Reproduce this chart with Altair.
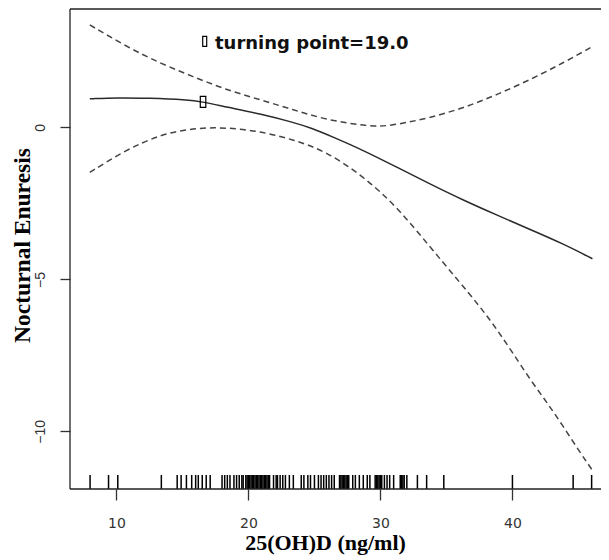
import altair as alt
import pandas as pd

# ---- data ----
fit_x = [7.98, 10.1, 12.4, 15.3, 16.56, 18.33, 20.86, 23.38, 24.9, 26.15, 28.7, 31.2, 33.7, 36.3, 38.8, 41.3, 43.8, 46.06]
fit_y = [0.94, 0.98, 0.96, 0.91, 0.84, 0.67, 0.45, 0.17, -0.04, -0.27, -0.75, -1.30, -1.85, -2.40, -2.88, -3.35, -3.82, -4.32]

upper_x = [7.98, 10.76, 13.3, 15.8, 18.3, 20.9, 23.4, 25.9, 28.7, 29.9, 31.2, 33.7, 36.3, 38.8, 41.3, 43.8, 46.06]
upper_y = [3.37, 2.66, 2.11, 1.67, 1.24, 0.91, 0.58, 0.25, 0.06, 0.03, 0.09, 0.31, 0.64, 1.07, 1.56, 2.11, 2.66]

lower_x = [7.98, 10.76, 13.3, 15.8, 18.3, 20.9, 23.4, 25.9, 28.7, 31.2, 33.7, 35.8, 37.5, 38.8, 40.0, 41.3, 42.6, 43.8, 45.1, 46.06]
lower_y = [-1.48, -0.73, -0.24, -0.02, 0.0, -0.13, -0.40, -0.79, -1.61, -2.59, -3.90, -4.99, -5.87, -6.63, -7.40, -8.27, -9.04, -9.80, -10.68, -11.28]

rug_x = [8.0, 9.4, 10.1, 13.4, 14.6, 14.9, 15.3, 15.7, 16.0, 16.2, 16.5, 16.8, 17.1,
         18.0, 18.2, 18.4, 18.6, 18.9, 19.1,
         19.3, 19.5, 19.6, 19.8, 19.9, 20.0, 20.1, 20.2, 20.3, 20.4, 20.5,
         20.6, 20.7, 20.8, 20.9, 21.0, 21.1, 21.2, 21.3, 21.4, 21.5, 21.6,
         21.9, 22.1, 22.2, 22.4, 22.6, 22.8, 23.1, 23.4,
         24.0, 24.2, 24.5, 24.7, 25.0, 25.3, 25.5, 25.7, 25.9, 26.1, 26.3, 26.5,
         26.9, 27.0, 27.1, 27.2, 27.3, 27.4, 27.5, 27.6,
         27.9, 28.1, 28.4, 28.7, 29.0, 29.2,
         29.6, 29.7, 29.8, 29.9, 30.0, 30.1, 30.3, 30.5, 30.7, 31.0,
         31.5, 31.6, 31.7, 31.8, 32.0, 32.8, 33.5, 34.8, 40.0, 44.6, 46.0]

turning_x = [16.56]
turning_y = [0.84]
legend_label = ["turning point=19.0"]

x_ticks = [10, 20, 30, 40]
y_ticks = [0, -5, -10]
x_title = "25(OH)D (ng/ml)"
y_title = "Nocturnal Enuresis"

W, H = 531, 480

df_fit = pd.DataFrame({"x": fit_x, "y": fit_y})
df_up = pd.DataFrame({"x": upper_x, "y": upper_y})
df_lo = pd.DataFrame({"x": lower_x, "y": lower_y})
df_rug = pd.DataFrame({"x": rug_x})
df_tp = pd.DataFrame({"x": turning_x, "y": turning_y})
df_leg = pd.DataFrame({"label": legend_label})
df_one = pd.DataFrame({"k": [0]})

xs = alt.Scale(domain=[6.48, 46.71], nice=False, zero=False)
ys = alt.Scale(domain=[-11.895, 3.895], nice=False, zero=False)

xaxis = alt.Axis(values=x_ticks, tickSize=11, tickColor="#333", tickWidth=1.3, domain=False, grid=False,
                 labelFont="DejaVu Sans", labelFontSize=14, labelColor="#333", labelPadding=16,
                 titleFont="Liberation Serif", titleFontWeight="bold", titleFontSize=22,
                 titleColor="black", titleX=255, titleY=60, titleBaseline="alphabetic", titleAlign="center")
yaxis = alt.Axis(values=y_ticks, tickSize=10, tickColor="#333", tickWidth=1.3, domain=False, grid=False,
                 labelFont="Liberation Sans", labelFontSize=14, labelColor="#333", labelPadding=13,
                 labelAngle=270, labelAlign="center", labelBaseline="bottom",
                 titleFont="Liberation Serif", titleFontWeight="bold", titleFontSize=23.5,
                 titleColor="black", titleAngle=270, titleX=-41, titleY=236, titleBaseline="alphabetic",
                 titleAlign="center")

X = alt.X("x:Q", scale=xs, axis=xaxis, title=x_title)
Y = alt.Y("y:Q", scale=ys, axis=yaxis, title=y_title)

frame_color = "#222"
frame_top = alt.Chart(df_one).mark_rule(color=frame_color, strokeWidth=1.3).encode(
    x=alt.value(0), x2=alt.value(W), y=alt.value(0))
frame_left = alt.Chart(df_one).mark_rule(color=frame_color, strokeWidth=1.3).encode(
    x=alt.value(0), y=alt.value(0), y2=alt.value(H))
frame_bottom = alt.Chart(df_one).mark_rule(color=frame_color, strokeWidth=1.3).encode(
    x=alt.value(0), x2=alt.value(W), y=alt.value(H))

fit = alt.Chart(df_fit).mark_line(color="#2a2a2a", strokeWidth=1.5, interpolate="basis").encode(x=X, y=Y)
upper = alt.Chart(df_up).mark_line(color="#444", strokeWidth=1.5, strokeDash=[6, 4], interpolate="basis").encode(x=X, y=Y)
lower = alt.Chart(df_lo).mark_line(color="#444", strokeWidth=1.5, strokeDash=[6, 4], interpolate="basis").encode(x=X, y=Y)
rug = alt.Chart(df_rug).mark_rule(color="black", strokeWidth=1.5).encode(
    x=X, y=alt.value(H - 14), y2=alt.value(H))
tp = alt.Chart(df_tp).mark_point(shape="M-0.5,-1H0.5V1H-0.5Z", size=121, filled=False, color="black",
                                 strokeWidth=1.2, opacity=1).encode(x=X, y=Y)
leg_sym = alt.Chart(df_leg).mark_point(shape="M-0.4,-1H0.4V1H-0.4Z", size=100, filled=False, color="black",
                                       strokeWidth=1.2, opacity=1).encode(
    x=alt.value(134.7), y=alt.value(32.4))
leg_txt = alt.Chart(df_leg).mark_text(align="left", baseline="alphabetic", font="DejaVu Sans",
                                      fontWeight="bold", fontSize=18, color="#111").encode(
    x=alt.value(145), y=alt.value(40), text="label:N")

chart = alt.layer(fit, upper, lower, rug, tp, leg_sym, leg_txt, frame_top, frame_left, frame_bottom).properties(
    width=W, height=H,
    autosize=alt.AutoSizeParams(type="none"),
    padding={"left": 62, "top": 1, "right": 0, "bottom": 67},
).configure_view(strokeWidth=0)

chart.save("out.html", embed_options={"renderer": "svg", "actions": False})
